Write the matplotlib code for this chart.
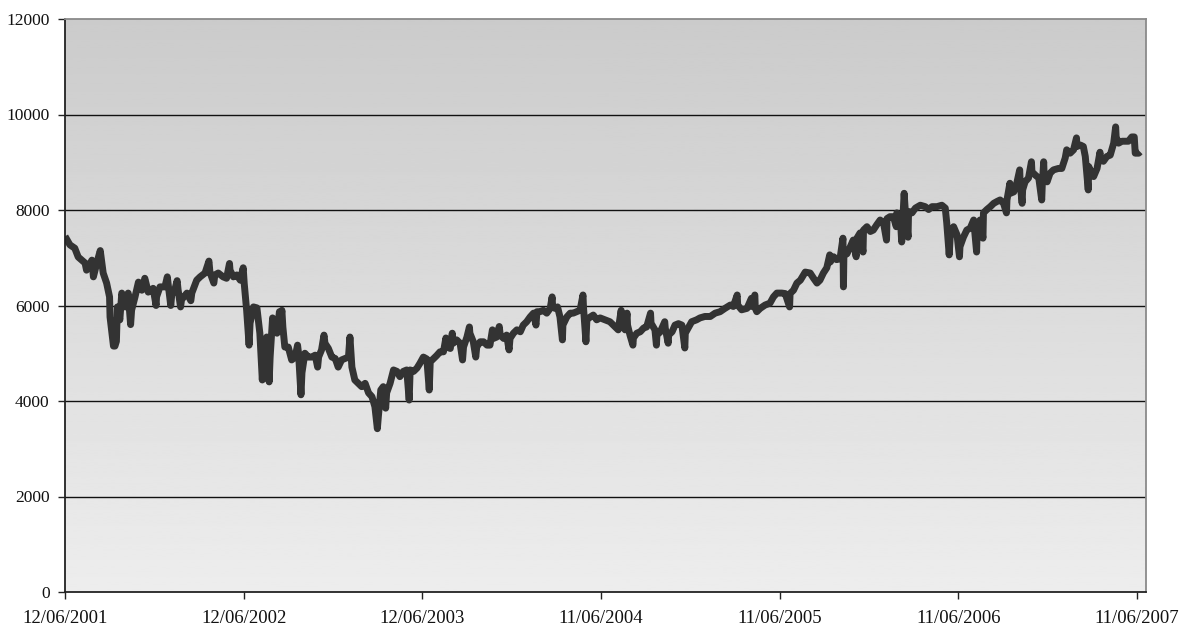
import numpy as np
import matplotlib
matplotlib.use('Agg')
import matplotlib.pyplot as plt

# Dữ liệu: số ngày kể từ 12/06/2001 và giá trị chỉ số
start_date = np.datetime64('2001-06-12')

days = [
    0, 10, 20, 27, 41, 44, 55, 58, 65, 72, 78, 85, 91, 92, 99, 102, 105, 107, 112, 116,
    123, 129, 134, 136, 143, 150, 157, 163, 170, 180, 186, 187, 194, 204, 209, 211, 216, 218, 225, 229,
    231, 236, 238, 249, 257, 259, 269, 276, 286, 294, 296, 304, 306, 313, 323, 330, 336, 337, 344, 351,
    358, 364, 366, 371, 376, 378, 385, 392, 398, 403, 405, 412, 417, 419, 424, 426, 433, 438, 439, 443,
    445, 449, 456, 463, 470, 475, 477, 482, 484, 490, 497, 504, 511, 516, 518, 524, 529, 531, 538, 545,
    552, 558, 565, 572, 579, 582, 586, 592, 599, 606, 613, 620, 627, 633, 638, 640, 645, 650, 655, 657,
    664, 671, 678, 684, 691, 698, 703, 705, 712, 719, 725, 732, 739, 744, 746, 752, 759, 766, 773, 778,
    780, 787, 791, 793, 800, 807, 812, 814, 821, 826, 827, 834, 839, 841, 848, 855, 862, 868, 873, 875,
    882, 887, 889, 896, 902, 907, 909, 916, 923, 930, 936, 943, 950, 957, 962, 964, 970, 977, 984, 991,
    995, 996, 1001, 1006, 1011, 1016, 1017, 1025, 1032, 1038, 1045, 1052, 1058, 1059, 1064, 1066, 1073, 1079, 1086, 1093,
    1103, 1113, 1124, 1130, 1136, 1137, 1144, 1148, 1149, 1154, 1160, 1161, 1168, 1175, 1182, 1188, 1196, 1197, 1205, 1208,
    1209, 1216, 1225, 1226, 1232, 1233, 1240, 1246, 1253, 1260, 1266, 1267, 1274, 1280, 1290, 1297, 1307, 1318, 1328, 1338,
    1348, 1359, 1365, 1373, 1374, 1382, 1393, 1402, 1403, 1409, 1410, 1413, 1420, 1430, 1440, 1447, 1454, 1464, 1471, 1480,
    1481, 1488, 1495, 1502, 1512, 1522, 1529, 1536, 1542, 1549, 1556, 1562, 1563, 1570, 1576, 1583, 1589, 1590, 1591, 1597,
    1604, 1610, 1616, 1617, 1624, 1630, 1631, 1638, 1645, 1651, 1658, 1665, 1672, 1678, 1679, 1685, 1692, 1698, 1699, 1706,
    1709, 1714, 1716, 1722, 1723, 1730, 1737, 1747, 1757, 1764, 1771, 1781, 1791, 1798, 1801, 1806, 1808, 1815, 1822, 1827,
    1828, 1835, 1842, 1849, 1856, 1862, 1863, 1869, 1875, 1876, 1883, 1890, 1897, 1904, 1910, 1917, 1923, 1924, 1930, 1931,
    1938, 1944, 1950, 1951, 1955, 1956, 1961, 1968, 1974, 1975, 1982, 1989, 1995, 1996, 1999, 2000, 2006, 2012, 2019, 2029,
    2036, 2043, 2046, 2053, 2060, 2066, 2067, 2074, 2080, 2084, 2090, 2091, 2098, 2101, 2108, 2114, 2115, 2121, 2128, 2135,
    2142, 2146, 2147, 2152, 2159, 2166, 2172, 2179, 2184, 2186, 2193, 2196,
]

values = [
    7450, 7270, 7200, 7015, 6890, 6740, 6950, 6600, 6890, 7150, 6680, 6470, 6180, 5760, 5150, 5150, 5250, 5970, 5700, 6260,
    5970, 6260, 5600, 5900, 6180, 6490, 6320, 6570, 6280, 6360, 6000, 6180, 6390, 6390, 6600, 6420, 6000, 6220, 6360, 6520,
    6330, 5970, 6120, 6260, 6100, 6260, 6530, 6600, 6680, 6930, 6700, 6470, 6640, 6680, 6600, 6570, 6880, 6740, 6600, 6640,
    6530, 6790, 6470, 5900, 5170, 5630, 5970, 5950, 5420, 4440, 4860, 5340, 4400, 4920, 5740, 5490, 5420, 5870, 5550, 5900,
    5550, 5130, 5130, 4860, 4920, 5170, 5000, 4130, 4590, 5000, 4920, 4920, 4960, 4710, 4920, 5070, 5380, 5210, 5100, 4920,
    4890, 4710, 4860, 4890, 4920, 5340, 4710, 4440, 4370, 4300, 4370, 4170, 4090, 3880, 3420, 3670, 4230, 4300, 3850, 4170,
    4370, 4650, 4620, 4510, 4620, 4650, 4020, 4650, 4620, 4690, 4790, 4920, 4880, 4230, 4820, 4880, 4950, 5030, 5030, 5320,
    5130, 5100, 5420, 5210, 5280, 5210, 4860, 5130, 5340, 5550, 5420, 5240, 4920, 5130, 5240, 5240, 5170, 5170, 5490, 5310,
    5340, 5560, 5380, 5310, 5380, 5070, 5310, 5420, 5490, 5450, 5590, 5660, 5760, 5840, 5590, 5870, 5870, 5900, 5840, 5940,
    6180, 5970, 5940, 5970, 5760, 5280, 5590, 5760, 5840, 5840, 5870, 5900, 6220, 5970, 5240, 5700, 5760, 5800, 5700, 5740,
    5700, 5660, 5550, 5490, 5900, 5620, 5490, 5840, 5590, 5380, 5170, 5320, 5420, 5450, 5530, 5550, 5840, 5630, 5490, 5170,
    5380, 5450, 5660, 5530, 5210, 5380, 5450, 5590, 5620, 5590, 5110, 5420, 5550, 5660, 5700, 5740, 5770, 5770, 5840, 5870,
    5940, 6010, 5980, 6220, 6010, 5910, 5940, 6150, 5980, 6220, 5940, 5870, 5940, 6010, 6050, 6180, 6260, 6260, 6250, 5970,
    6250, 6320, 6470, 6530, 6700, 6680, 6570, 6470, 6530, 6680, 6790, 7060, 6910, 7020, 6960, 6980, 7410, 6390, 7100, 7080,
    7230, 7370, 7020, 7400, 7520, 7120, 7580, 7650, 7550, 7580, 7690, 7790, 7720, 7370, 7820, 7860, 7860, 7650, 7940, 7860,
    7330, 8350, 8040, 7430, 7970, 7940, 8040, 8100, 8070, 8010, 8070, 8070, 8100, 8040, 7730, 7060, 7430, 7650, 7480, 7020,
    7230, 7430, 7580, 7620, 7790, 7120, 7500, 7790, 7410, 7940, 8010, 8070, 8140, 8180, 8210, 8140, 7940, 8210, 8560, 8350,
    8380, 8560, 8840, 8560, 8140, 8420, 8590, 8670, 9010, 8800, 8730, 8670, 8210, 8490, 9010, 8700, 8590, 8770, 8840, 8870,
    8870, 9090, 9260, 9190, 9260, 9510, 9330, 9360, 9330, 9120, 8420, 8910, 8730, 8700, 8870, 9210, 9050, 9020, 9120, 9150,
    9400, 9740, 9530, 9400, 9440, 9440, 9440, 9530, 9530, 9190, 9190, 9220,
]

tick_dates = ['2001-06-12', '2002-06-12', '2003-06-12', '2004-06-11',
              '2005-06-11', '2006-06-11', '2007-06-11']
tick_labels = ['12/06/2001', '12/06/2002', '12/06/2003', '11/06/2004',
               '11/06/2005', '11/06/2006', '11/06/2007']
y_ticks = [0, 2000, 4000, 6000, 8000, 10000, 12000]

plt.rcParams['font.family'] = ['Liberation Serif', 'DejaVu Serif']

dates = start_date + np.array(days).astype('timedelta64[D]')

fig = plt.figure(figsize=(11.9, 6.32), dpi=100)
ax = fig.add_axes([65 / 1190, 40 / 632, 1081 / 1190, 573 / 632])

# Nền chuyển màu (đậm ở trên, nhạt ở dưới)
grad = np.linspace(203, 237, 256).reshape(-1, 1) / 255.0
ax.imshow(grad, cmap='gray', vmin=0, vmax=1, aspect='auto', origin='upper',
          extent=[0, 1, 0, 1], transform=ax.transAxes, zorder=0)

for v in y_ticks[1:-1]:
    ax.axhline(v, color='#111111', lw=1.0, zorder=1)

ax.plot(dates, values, color='#333333', lw=5.0, solid_joinstyle='round',
        solid_capstyle='butt', zorder=2)

ax.set_ylim(0, 12000)
ax.set_xlim(start_date, start_date + np.timedelta64(2208, 'D'))
ax.set_yticks(y_ticks)
ax.set_yticklabels([str(v) for v in y_ticks])
ax.set_xticks(np.array(tick_dates, dtype='datetime64[D]'))
ax.set_xticklabels(tick_labels)

ax.tick_params(axis='both', direction='out', length=5, width=1,
               color='#222222', labelsize=12.5, labelcolor='#111111')
ax.tick_params(axis='x', pad=8, labelsize=13.5)
ax.tick_params(axis='y', pad=6)

for side in ['left', 'bottom']:
    ax.spines[side].set_color('#222222')
    ax.spines[side].set_linewidth(1.3)
for side in ['top', 'right']:
    ax.spines[side].set_color('#8a8a8a')
    ax.spines[side].set_linewidth(1.3)

plt.savefig('out.png', dpi=100)
